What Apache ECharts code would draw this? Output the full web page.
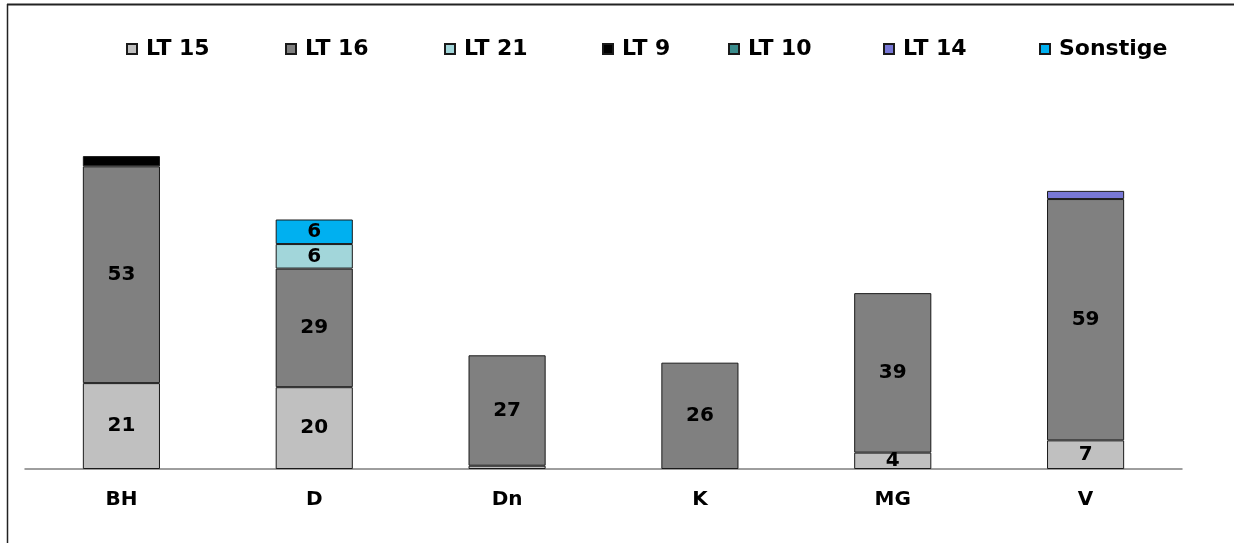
<!DOCTYPE html>
<html>
<head>
<meta charset="utf-8">
<script src="https://cdn.jsdelivr.net/npm/echarts@6/dist/echarts.min.js"></script>
<style>
  html, body { margin: 0; padding: 0; background: #ffffff; }
  #chart { width: 1234px; height: 543px; }
</style>
</head>
<body>
<div id="chart"></div>
<script>
// Categories along the x axis
const categories = ['BH', 'D', 'Dn', 'K', 'MG', 'V'];

// Stacked segment values per series, one entry per category
const seriesNames = ['LT 15', 'LT 16', 'LT 21', 'LT 9', 'LT 10', 'LT 14', 'Sonstige'];
const lt15     = [21, 20, 0.8, null, 4, 7];
const lt16     = [53, 29, 27, 26, 39, 59];
const lt21     = [null, 6, null, null, null, null];
const lt9      = [2.5, null, null, null, null, null];
const lt10     = [null, null, null, null, null, null];
const lt14     = [null, null, null, null, null, 2];
const sonstige = [null, 6, null, null, null, null];

const seriesValues = [lt15, lt16, lt21, lt9, lt10, lt14, sonstige];
const seriesColors = ['#C0C0C0', '#808080', '#A2D6DA', '#000000', '#3A8C8C', '#7878D6', '#00B0F0'];

// left edge of each legend entry
const legendLeft = [126, 285, 444, 602, 728, 883, 1039];

const FONT = '"DejaVu Sans", Verdana, sans-serif';

const series = seriesNames.map((name, i) => ({
  name: name,
  type: 'bar',
  stack: 'total',
  barWidth: '40%',
  itemStyle: { color: seriesColors[i], borderColor: '#1a1a1a', borderWidth: 1 },
  label: {
    show: true,
    position: 'inside',
    color: '#000',
    fontFamily: FONT,
    fontWeight: 'bold',
    fontSize: 20,
    // small slivers carry no number
    formatter: p => (p.value != null && p.value >= 3) ? String(p.value) : ''
  },
  data: seriesValues[i]
}));

// one legend component per entry so each sits at its own position
const legends = seriesNames.map((name, i) => ({
  data: [name],
  left: legendLeft[i],
  top: 38,
  padding: 0,
  icon: 'rect',
  itemWidth: 10,
  itemHeight: 10,
  textStyle: {
    color: '#000',
    fontFamily: FONT,
    fontWeight: 'bold',
    fontSize: 22,
    padding: [0, 0, 0, 4]
  }
}));

const chart = echarts.init(document.getElementById('chart'), null, { renderer: 'canvas' });
chart.setOption({
  backgroundColor: '#ffffff',
  animation: false,
  legend: legends,
  grid: { left: 25, right: 52, top: 60, bottom: 74, containLabel: false },
  xAxis: {
    type: 'category',
    data: categories,
    axisLine: { show: true, lineStyle: { color: '#7f7f7f', width: 1.5 } },
    axisTick: { show: false },
    axisLabel: {
      color: '#000',
      fontFamily: FONT,
      fontWeight: 'bold',
      fontSize: 20,
      margin: 21
    }
  },
  yAxis: {
    type: 'value',
    min: 0,
    max: 100,
    show: false,
    splitLine: { show: false }
  },
  // outer frame: top and left edges
  graphic: [
    { type: 'line', shape: { x1: 7, y1: 4.5, x2: 1234, y2: 4.5 }, style: { stroke: '#222', lineWidth: 2 }, silent: true },
    { type: 'line', shape: { x1: 7.5, y1: 4, x2: 7.5, y2: 543 }, style: { stroke: '#222', lineWidth: 1.5 }, silent: true }
  ],
  series: series
});
</script>
</body>
</html>
